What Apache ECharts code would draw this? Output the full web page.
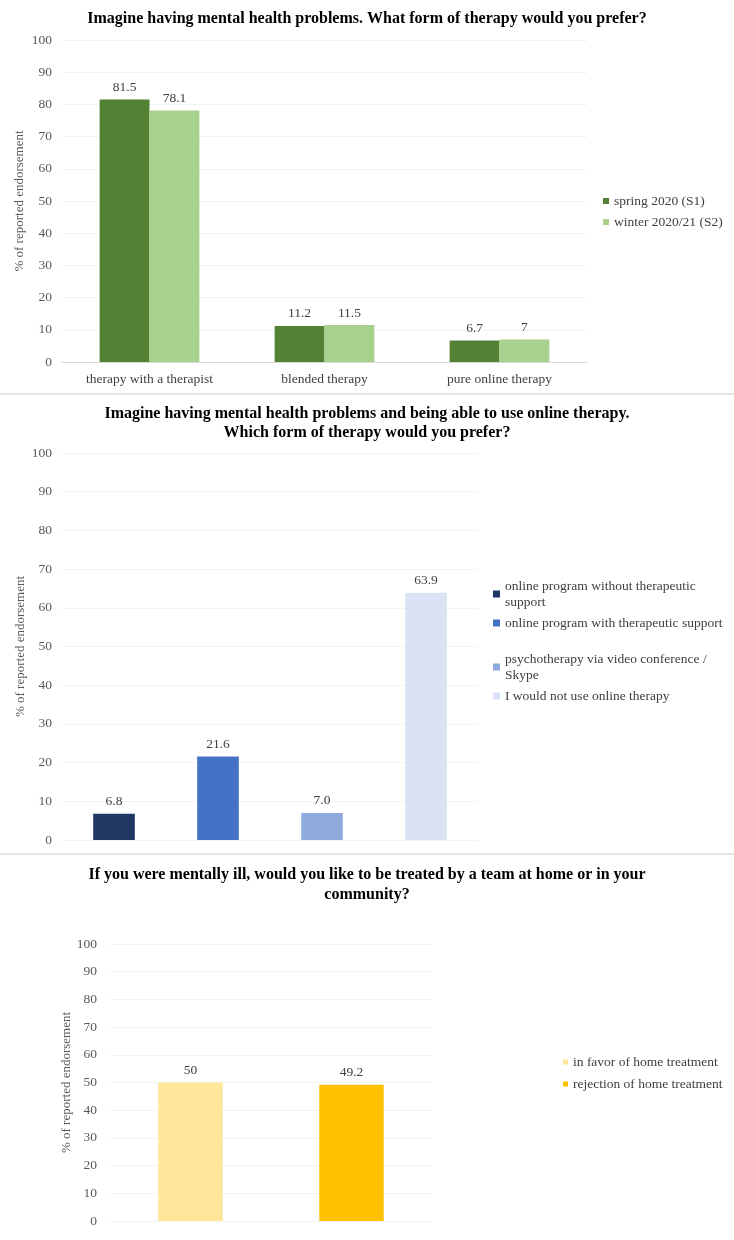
<!DOCTYPE html>
<html><head><meta charset="utf-8">
<script src="https://cdn.jsdelivr.net/npm/echarts@6/dist/echarts.min.js"></script>
<style>html,body{margin:0;padding:0;background:#fff}#c{width:734px;height:1240px}</style>
</head><body><div id="c"></div>
<script>
// Panel 1
const cats1 = ['therapy with a therapist', 'blended therapy', 'pure online therapy'];
const s1Name = 'spring 2020 (S1)';
const s2Name = 'winter 2020/21 (S2)';
const s1Vals = [81.5, 11.2, 6.7];
const s2Vals = [78.1, 11.5, 7];
// Panel 2
const cats2 = ['online program without therapeutic support', 'online program with therapeutic support', 'psychotherapy via video conference / Skype', 'I would not use online therapy'];
const vals2 = [6.8, 21.6, 7.0, 63.9];
// Panel 3
const cats3 = ['in favor of home treatment', 'rejection of home treatment'];
const vals3 = [50, 49.2];
const yTicks = [0, 10, 20, 30, 40, 50, 60, 70, 80, 90, 100];

const titles = [
  'Imagine having mental health problems. What form of therapy would you prefer?',
  'Imagine having mental health problems and being able to use online therapy.\nWhich form of therapy would you prefer?',
  'If you were mentally ill, would you like to be treated by a team at home or in your\ncommunity?'
];
const yName = '% of reported endorsement';

const FONT = '"Liberation Serif", "Times New Roman", serif';
const colors1 = ['#548235', '#A9D18E'];
const colors2 = ['#203864', '#4472C4', '#8FAADC', '#DAE3F3'];
const colors3 = ['#FFE699', '#FFC000'];

const grids = [
  {left: 62, top: 40, width: 525, height: 322},
  {left: 62, top: 453, width: 416, height: 387},
  {left: 110, top: 944, width: 322, height: 277}
];

function yAxis(gi, gap, margin) {
  return {
    type: 'value', gridIndex: gi, min: yTicks[0], max: yTicks[yTicks.length - 1], interval: 10,
    name: yName, nameLocation: 'middle', nameRotate: 90, nameGap: gap, nameMoveOverlap: false,
    nameTextStyle: {fontFamily: FONT, fontSize: 13, color: '#595959'},
    axisLabel: {fontFamily: FONT, fontSize: 13.5, color: '#595959', margin: margin},
    axisLine: {show: false}, axisTick: {show: false},
    splitLine: {lineStyle: {color: '#f3f3f3', width: 1}}
  };
}
const labelStyle = {show: true, position: 'top', distance: 5, fontFamily: FONT, fontSize: 13.5, color: '#404040'};

const wrapMap = {
  'online program without therapeutic support': 'online program without therapeutic\nsupport',
  'psychotherapy via video conference / Skype': 'psychotherapy via video conference /\nSkype'
};

const series = [];
series.push({type: 'bar', name: s1Name, xAxisIndex: 0, yAxisIndex: 0, data: s1Vals, barGap: '0%', barCategoryGap: '43%',
  itemStyle: {color: colors1[0]}, label: labelStyle});
series.push({type: 'bar', name: s2Name, xAxisIndex: 0, yAxisIndex: 0, data: s2Vals, barGap: '0%', barCategoryGap: '43%',
  itemStyle: {color: colors1[1]}, label: labelStyle});
cats2.forEach((c, i) => {
  series.push({type: 'bar', name: c, xAxisIndex: 1, yAxisIndex: 1, stack: 'p2', barWidth: '40%',
    data: cats2.map((_, j) => j === i ? vals2[i] : '-'), itemStyle: {color: colors2[i]},
    label: Object.assign({}, labelStyle, {formatter: p => Number(p.value).toFixed(1)})});
});
cats3.forEach((c, i) => {
  series.push({type: 'bar', name: c, xAxisIndex: 2, yAxisIndex: 2, stack: 'p3', barWidth: '40%',
    data: cats3.map((_, j) => j === i ? vals3[i] : '-'), itemStyle: {color: colors3[i]},
    label: labelStyle});
});

const legendText = {fontFamily: FONT, fontSize: 13.5, color: '#404040', lineHeight: 16};
const legBase = {orient: 'vertical', padding: 0, icon: 'rect', textStyle: legendText, itemStyle: {borderWidth: 0}};
const option = {
  backgroundColor: '#fff',
  animation: false,
  title: [
    {text: titles[0], left: 'center', top: 6, textStyle: {fontFamily: FONT, fontSize: 16, fontWeight: 'bold', color: '#000'}},
    {text: titles[1], left: 'center', top: 399, textStyle: {fontFamily: FONT, fontSize: 16, fontWeight: 'bold', color: '#000', lineHeight: 19}},
    {text: titles[2], left: 'center', top: 860, textStyle: {fontFamily: FONT, fontSize: 16, fontWeight: 'bold', color: '#000', lineHeight: 20}}
  ],
  legend: [
    Object.assign({}, legBase, {data: [s1Name, s2Name], left: 603, top: 193, itemWidth: 6, itemHeight: 6, itemGap: 5}),
    Object.assign({}, legBase, {data: cats2.slice(0, 2), left: 493, top: 578, itemWidth: 7, itemHeight: 7, itemGap: 5, formatter: n => wrapMap[n] || n}),
    Object.assign({}, legBase, {data: cats2.slice(2), left: 493, top: 651, itemWidth: 7, itemHeight: 7, itemGap: 5, formatter: n => wrapMap[n] || n}),
    Object.assign({}, legBase, {data: cats3, left: 563, top: 1054, itemWidth: 5, itemHeight: 5, itemGap: 6})
  ],
  grid: grids,
  xAxis: [
    {type: 'category', gridIndex: 0, data: cats1, axisTick: {show: false},
      axisLine: {lineStyle: {color: '#d9d9d9'}},
      axisLabel: {fontFamily: FONT, fontSize: 13.5, color: '#404040', margin: 10}},
    {type: 'category', gridIndex: 1, data: cats2, axisTick: {show: false}, axisLabel: {show: false},
      axisLine: {show: false}},
    {type: 'category', gridIndex: 2, data: cats3, axisTick: {show: false}, axisLabel: {show: false},
      axisLine: {show: false}}
  ],
  yAxis: [yAxis(0, 36, 10), yAxis(1, 35, 10), yAxis(2, 37, 13)],
  graphic: [
    {type: 'line', shape: {x1: 0, y1: 394, x2: 734, y2: 394}, style: {stroke: '#e6e6e6', lineWidth: 2}},
    {type: 'line', shape: {x1: 0, y1: 854, x2: 734, y2: 854}, style: {stroke: '#e6e6e6', lineWidth: 2}}
  ],
  series: series
};
const chart = echarts.init(document.getElementById('c'));
chart.setOption(option);
</script>
</body></html>
